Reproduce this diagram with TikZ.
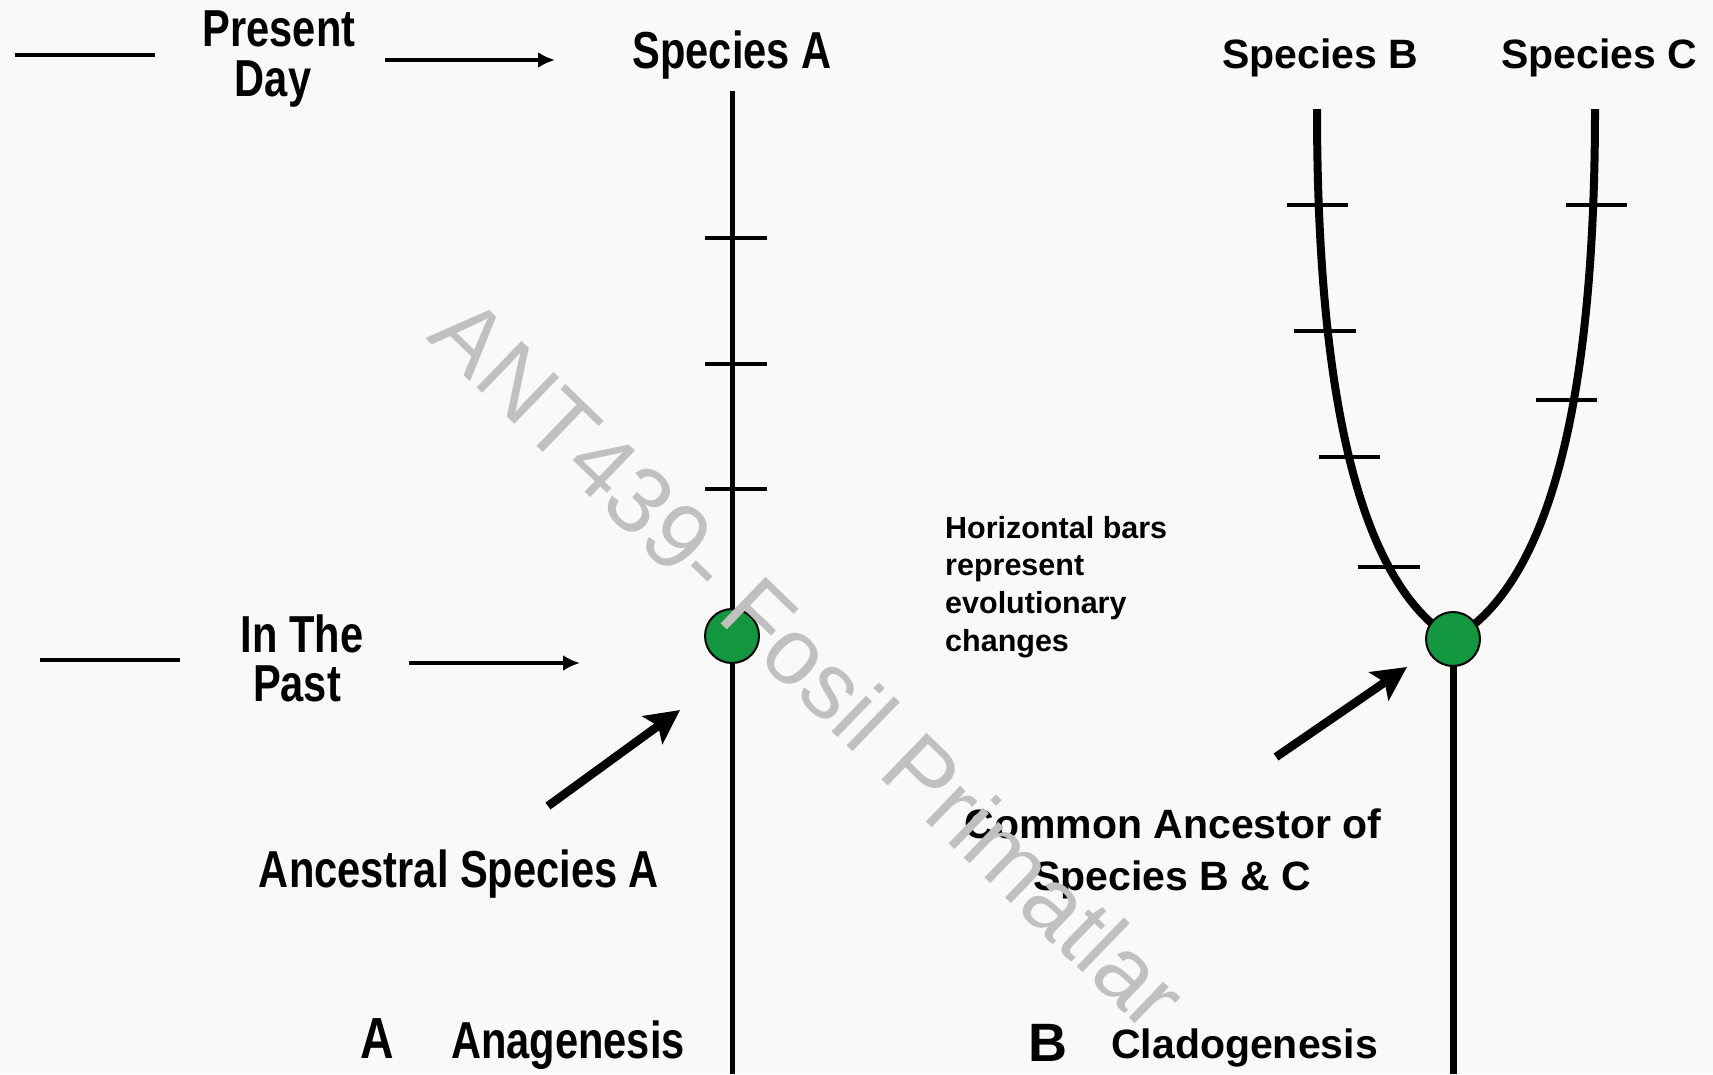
\documentclass[tikz,border=0pt]{standalone}
\usepackage{fontspec}
\setmainfont{Liberation Sans}
\newfontfamily\narrowf[FakeStretch=0.8]{Liberation Sans}
\newfontfamily\widef{Liberation Sans}
\usetikzlibrary{arrows.meta}
\definecolor{bg}{RGB}{249,249,249}
\definecolor{anc}{RGB}{18,150,62}
\definecolor{wm}{RGB}{192,192,192}
\pgfdeclarelayer{bgl}
\pgfdeclarelayer{edges}
\pgfsetlayers{bgl,edges,main}
\begin{document}
\begin{tikzpicture}[x=1pt,y=-1pt,
  nt/.style={inner sep=0pt, anchor=base, font=\narrowf\bfseries\fontsize{52}{60}\selectfont},
  wt/.style={inner sep=0pt, anchor=base, font=\widef\bfseries\fontsize{41}{46}\selectfont},
  st/.style={inner sep=0pt, anchor=north west, align=left, font=\widef\bfseries\fontsize{30.5}{37.6}\selectfont},
  ancestor/.style={circle, fill=anc, draw=black, line width=2pt, minimum size=54pt, inner sep=0pt},
  lineage/.style={line width=5pt},
  branch/.style={line width=8pt},
  tick/.style={line width=4pt},
  thinarrow/.style={line width=4.5pt, -{Latex[length=17pt,width=16pt]}},
  thickarrow/.style={line width=8.5pt, -{Stealth[length=34pt,width=34pt,inset=7pt]}},
  plainline/.style={line width=4.5pt},
  watermark/.style={inner sep=0pt, text=wm, rotate=-44, font=\fontsize{94}{100}\selectfont}
]
\begin{pgfonlayer}{bgl}
  \fill[bg] (0,0) rectangle (1713,1074);
\end{pgfonlayer}
\useasboundingbox (0,0) rectangle (1713,1074);

% ---------- texts
\node[nt] (present) at (279,46) {Present};
\node[nt] (day) at (273,96) {Day};
\node[nt] (specA) at (732,68) {Species A};
\node[nt] (inthe) at (302,652) {In The};
\node[nt] (past) at (297,701) {Past};
\node[nt] (ancestral) at (459,887) {Ancestral Species A};
\node[nt, anchor=base west, font=\narrowf\bfseries\fontsize{58}{60}\selectfont] (labA) at (360,1058) {A};
\node[nt, anchor=base west] (anag) at (451,1058) {Anagenesis};

\node[wt] (specB) at (1320,68) {Species B};
\node[wt] (specC) at (1599,68) {Species C};
\node[st] (hbars) at (945,516) {Horizontal bars\\represent\\evolutionary\\changes};
\node[wt] (common1) at (1173,838) {Common Ancestor of};
\node[wt] (common2) at (1172,890) {Species B \& C};
\node[wt, anchor=base west, font=\widef\bfseries\fontsize{54}{54}\selectfont] (labB) at (1028,1061) {B};
\node[wt, anchor=base west] (clado) at (1111,1058) {Cladogenesis};

% ---------- ancestors
\node[ancestor] (ancA) at (732,636) {};
\node[ancestor] (ancBC) at (1453,639) {};

% ---------- coordinates
\coordinate (topA) at (732,91);
\coordinate (botA) at (732,1074);
\coordinate (topB) at (1317,109);
\coordinate (topC) at (1595,109);
\coordinate (botBC) at (1453,1074);
\coordinate (l1a) at (15,55);   \coordinate (l1b) at (155,55);
\coordinate (l2a) at (40,660);  \coordinate (l2b) at (180,660);
\coordinate (a1a) at (385,60);  \coordinate (a1b) at (555,60);
\coordinate (a2a) at (409,663); \coordinate (a2b) at (580,663);
\coordinate (tA1) at (548,806); \coordinate (tA2) at (680,710);
\coordinate (tB1) at (1276,757); \coordinate (tB2) at (1407,667);

\begin{pgfonlayer}{edges}
  % anagenesis lineage
  \draw[lineage] (topA) -- (botA);
  \draw[tick] (705,238) -- (767,238);
  \draw[tick] (705,364) -- (767,364);
  \draw[tick] (705,489) -- (767,489);
  % cladogenesis branches
  \draw[branch] (topB) .. controls (1317,430) and (1370,590) .. (ancBC.center);
  \draw[branch] (topC) .. controls (1595,430) and (1540,590) .. (ancBC.center);
  \draw[branch, line width=7pt] (ancBC.center) -- (botBC);
  \draw[tick] (1287,205) -- (1348,205);
  \draw[tick] (1294,331) -- (1356,331);
  \draw[tick] (1319,457) -- (1380,457);
  \draw[tick] (1358,567) -- (1420,567);
  \draw[tick] (1566,205) -- (1627,205);
  \draw[tick] (1536,400) -- (1597,400);
\end{pgfonlayer}

% ---------- time markers
\draw[plainline] (l1a) -- (l1b);
\draw[plainline] (l2a) -- (l2b);
\draw[thinarrow] (a1a) -- (a1b);
\draw[thinarrow] (a2a) -- (a2b);
\draw[thickarrow] (tA1) -- (tA2);
\draw[thickarrow] (tB1) -- (tB2);

% ---------- watermark
\node[watermark] (wmark) at (810,663) {ANT439- Fosil Primatlar};
\end{tikzpicture}
\end{document}
